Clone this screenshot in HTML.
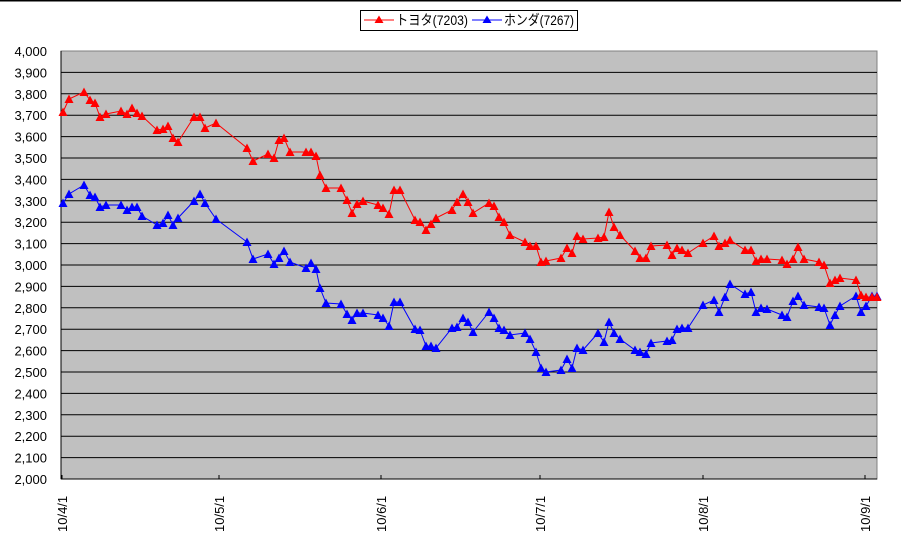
<!DOCTYPE html>
<html><head><meta charset="utf-8">
<style>
html,body{margin:0;padding:0;background:#fff;width:901px;height:542px;overflow:hidden}
svg{display:block;font-family:"Liberation Sans","Noto Sans CJK JP",sans-serif}
</style></head>
<body>
<svg id="c" width="901" height="542" viewBox="0 0 901 542" xmlns="http://www.w3.org/2000/svg">
<defs>
<marker id="mr" viewBox="0 0 10 10" refX="5" refY="5" markerWidth="10" markerHeight="10" markerUnits="userSpaceOnUse"><path d="M5,0.5 L9.5,9 L0.5,9 Z" fill="#ff0000"/></marker>
<marker id="mb" viewBox="0 0 10 10" refX="5" refY="5" markerWidth="10" markerHeight="10" markerUnits="userSpaceOnUse"><path d="M5,0.5 L9.5,9 L0.5,9 Z" fill="#0000ff"/></marker>
</defs>
<line x1="0" y1="0.5" x2="901" y2="0.5" stroke="#000" stroke-width="2"/>
<rect x="61" y="51" width="816" height="428" fill="#c0c0c0" stroke="#808080"/>
<g id="g"></g>
<rect x="360.5" y="10.5" width="217" height="20" fill="#fff" stroke="#000"/>
<line x1="364" y1="20" x2="394" y2="20" stroke="#ff0000"/><path d="M379,15.5 L383.5,23 L374.5,23 Z" fill="#ff0000"/>
<text x="396" y="25" font-size="14" textLength="72" lengthAdjust="spacingAndGlyphs">トヨタ(7203)</text>
<line x1="472" y1="20" x2="502" y2="20" stroke="#0000ff"/><path d="M487,15.5 L491.5,23 L482.5,23 Z" fill="#0000ff"/>
<text x="504" y="25" font-size="14" textLength="70" lengthAdjust="spacingAndGlyphs">ホンダ(7267)</text>
</svg>
<script>
var g=document.getElementById('g'),s='';
for(var i=0;i<=20;i++){var y=479-i*21.4;
 if(i>0&&i<20)s+='<line x1="61" x2="877" y1="'+y.toFixed(1)+'" y2="'+y.toFixed(1)+'" stroke="#000"/>';
 var v=2000+i*100;var t=Math.floor(v/1000)+','+String(v%1000).padStart(3,'0');
 s+='<text x="47" y="'+(y+5).toFixed(1)+'" font-size="13" text-anchor="end">'+t+'</text>';}
s+='<line x1="61" y1="51" x2="61" y2="479" stroke="#000"/><line x1="61" y1="479" x2="877" y2="479" stroke="#000"/>';
var tk=[[62,'10/4/1'],[219,'10/5/1'],[381,'10/6/1'],[540,'10/7/1'],[703,'10/8/1'],[865,'10/9/1']];
tk.forEach(function(k){s+='<line x1="'+k[0]+'" x2="'+k[0]+'" y1="475" y2="479" stroke="#000"/>';
 s+='<text transform="translate('+(k[0]+5)+',532) rotate(-90)" font-size="13">'+k[1]+'</text>';});
var R=[[63,112],[69,99],[84,92],[90,100],[95,103],[100,117],[106,114],[121,111],[127,114],[132,108],[137,113],[142,116],[157,130],[163,129],[168,126],[173,138],[178,142],[194,117],[200,117],[205,128],[216,123],[247,148],[253,161],[268,154],[274,158],[279,140],[284,138],[290,152],[306,152],[311,152],[316,156],[320,175],[326,188],[341,188],[347,200],[352,213],[357,204],[363,201],[378,205],[383,208],[389,214],[394,190],[400,190],[415,220],[420,222],[426,230],[431,224],[436,218],[452,210],[457,202],[463,194],[468,202],[473,213],[489,203],[494,206],[499,217],[504,222],[510,235],[525,242],[530,246],[536,246],[541,262],[546,261],[561,258],[567,248],[572,253],[577,236],[583,239],[598,238],[604,237],[609,212],[614,227],[620,235],[635,251],[640,258],[646,258],[651,246],[667,245],[672,255],[677,248],[682,250],[688,253],[703,243],[714,236],[719,246],[725,243],[730,240],[745,250],[751,250],[756,261],[761,259],[767,259],[782,260],[787,264],[793,259],[798,247],[804,259],[819,262],[824,265],[830,283],[835,280],[840,278],[856,280],[861,295],[866,297],[872,297],[877,297]];
var B=[[63,203],[69,194],[84,185],[90,195],[95,197],[100,207],[106,205],[121,205],[127,210],[132,207],[137,207],[142,216],[157,225],[163,223],[168,215],[173,225],[178,218],[194,201],[200,194],[205,203],[216,219],[247,242],[253,259],[268,254],[274,264],[279,258],[284,251],[290,262],[306,268],[311,263],[316,269],[320,288],[326,303],[341,304],[347,314],[352,320],[357,313],[363,313],[378,315],[383,318],[389,326],[394,302],[400,302],[415,329],[420,330],[426,346],[431,346],[436,348],[452,328],[457,327],[463,318],[468,322],[473,332],[489,312],[494,318],[499,328],[504,330],[510,335],[525,333],[530,339],[536,352],[541,368],[546,372],[561,370],[567,359],[572,368],[577,348],[583,350],[598,333],[604,342],[609,322],[614,333],[620,339],[635,350],[640,352],[646,354],[651,343],[667,341],[672,340],[677,329],[682,328],[688,328],[703,305],[714,300],[719,312],[725,297],[730,284],[745,294],[751,292],[756,312],[761,308],[767,309],[782,315],[787,317],[793,301],[798,296],[804,305],[819,307],[824,308],[830,325],[835,315],[840,306],[856,296],[861,312],[866,306],[872,296],[877,296]];
function pl(a,c,m){return '<polyline fill="none" stroke="'+c+'" stroke-width="1" points="'+a.map(function(p){return p.join(',')}).join(' ')+'" marker-start="url(#'+m+')" marker-mid="url(#'+m+')" marker-end="url(#'+m+')"/>';}
s+=pl(B,'#0000ff','mb')+pl(R,'#ff0000','mr');
g.innerHTML=s;
</script>
</body></html>
